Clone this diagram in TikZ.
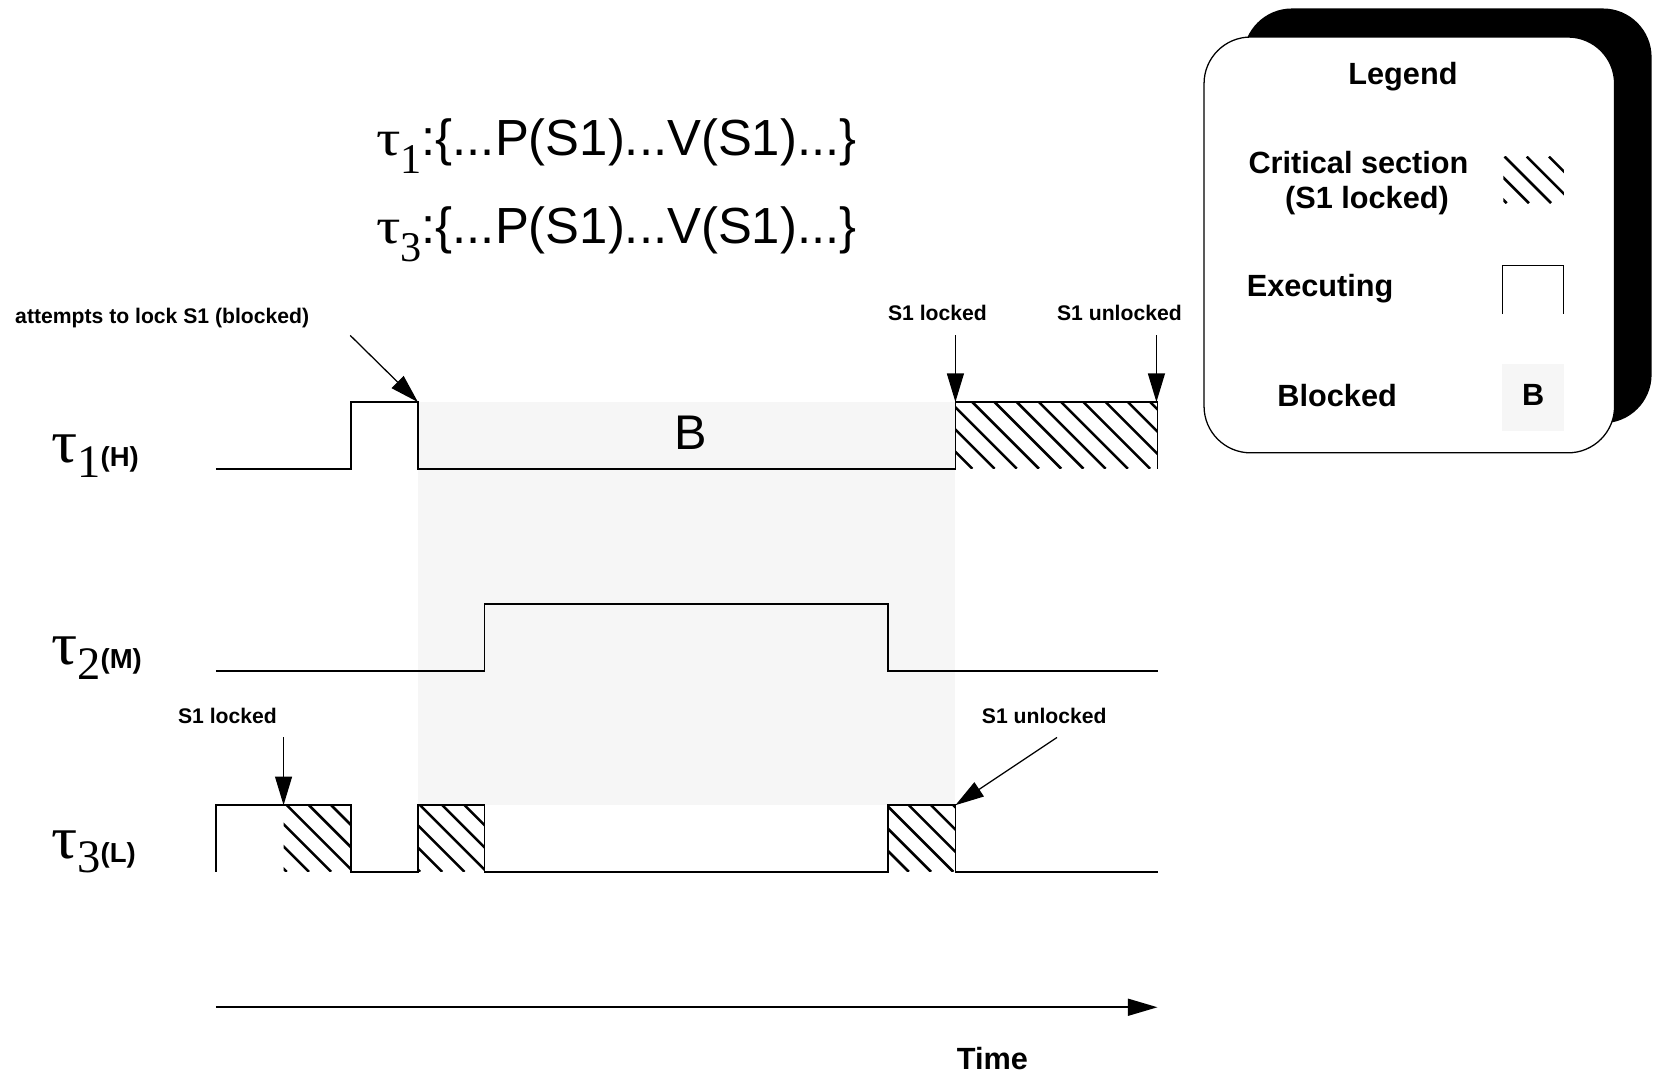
\documentclass[tikz,border=0pt]{standalone}
\usepackage{fontspec}
\setmainfont{Liberation Sans}
\newfontfamily\tmsfont{Liberation Serif}
\usetikzlibrary{arrows.meta}
\definecolor{blockgray}{RGB}{246,246,246}
\tikzset{
  sig/.style={line width=0.8pt, line join=miter},
  hatchline/.style={line width=1.2pt},
  ptr/.style={line width=0.6pt, -{Triangle[length=13.5pt,width=8pt]}},
  smalllab/.style={font=\bfseries\fontsize{10}{12}\selectfont, inner sep=0pt},
  legtext/.style={font=\bfseries\fontsize{14.5}{16.5}\selectfont, inner sep=0pt},
  plain/.style={inner sep=0pt},
}
\newcommand{\hatchrect}[4]{%
  \begin{scope}
    \clip (#1,#2) rectangle (#3,#4);
    \foreach \k in {-35,...,70} {
      \pgfmathsetmacro{\cc}{14+21*\k}
      \draw[hatchline] (\cc+#2,#2) -- (\cc+#4,#4);
    }
  \end{scope}}
\newcommand{\tasklabel}[2]{{\tmsfont\fontsize{28.5}{30}\selectfont \scalebox{1.08}[1]{τ}}\raisebox{-7pt}{\tmsfont\fontsize{22}{24}\selectfont #1}\raisebox{-2pt}{\bfseries\fontsize{13}{15}\selectfont(#2)}}
\newcommand{\formula}[1]{{\tmsfont\fontsize{24}{26}\selectfont \scalebox{1.2}[1]{τ}\raisebox{-8.5pt}{\fontsize{20}{22}\selectfont #1}}{\fontsize{24}{26}\selectfont:\{...P(S1)...V(S1)...\}}}
\begin{document}
\begin{tikzpicture}[x=0.5pt,y=-0.5pt]
\useasboundingbox (0,0) rectangle (1568,1016);

% blocked region
\fill[blockgray] (395,380) rectangle (903,761);

% hatched critical sections
\hatchrect{903}{380}{1094}{443}
\hatchrect{268}{761}{332}{824}
\hatchrect{395}{761}{458}{824}
\hatchrect{839}{761}{903}{824}

% signals
\draw[sig] (204,443) -- (332,443) -- (332,380) -- (395,380) -- (395,443) -- (903,443) -- (903,380) -- (1094,380) -- (1094,443);
\draw[sig] (204,634) -- (458,634) -- (458,571) -- (839,571) -- (839,634) -- (1094,634);
\draw[sig] (204,824) -- (204,761) -- (332,761) -- (332,824) -- (395,824) -- (395,761) -- (458,761) -- (458,824) -- (839,824) -- (839,761) -- (903,761) -- (903,824) -- (1094,824);

\node[plain, font=\fontsize{23}{25}\selectfont, anchor=base] (bl) at (653,425) {B};

% task labels
\node[plain, anchor=base west] (t1) at (48,437) {\tasklabel{1}{H}};
\node[plain, anchor=base west] (t2) at (48,628) {\tasklabel{2}{M}};
\node[plain, anchor=base west] (t3) at (48,811) {\tasklabel{3}{L}};

% formulas
\node[plain, anchor=base west] (f1) at (355,147) {\formula{1}};
\node[plain, anchor=base west] (f3) at (355,230) {\formula{3}};

% annotations
\node[smalllab, anchor=base west] (att) at (14,306) {attempts to lock S1 (blocked)};
\coordinate (attS) at (331,317);
\coordinate (attT) at (395,380);
\draw[ptr] (attS) -- (attT);

\node[smalllab, anchor=base] (lk1) at (886,303) {S1 locked};
\coordinate (lk1S) at (903,317);
\coordinate (lk1T) at (903,380);
\draw[ptr] (lk1S) -- (lk1T);

\node[smalllab, anchor=base] (ul1) at (1058,303) {S1 unlocked};
\coordinate (ul1S) at (1093,317);
\coordinate (ul1T) at (1093,380);
\draw[ptr] (ul1S) -- (ul1T);

\node[smalllab, anchor=base] (lk3) at (215,684) {S1 locked};
\coordinate (lk3S) at (268,697);
\coordinate (lk3T) at (268,761);
\draw[ptr] (lk3S) -- (lk3T);

\node[smalllab, anchor=base] (ul3) at (987,684) {S1 unlocked};
\coordinate (ul3S) at (999,697);
\coordinate (ul3T) at (903,761);
\draw[ptr] (ul3S) -- (ul3T);

% time axis
\coordinate (tA) at (204,952);
\coordinate (tB) at (1094,952);
\draw[line width=0.9pt, -{Triangle[length=14pt,width=8pt]}] (tA) -- (tB);
\node[legtext, anchor=base] (time) at (938,1011) {Time};

% legend
\fill[rounded corners=23pt] (1175,8) rectangle (1561,400);
\draw[fill=white, line width=0.6pt, rounded corners=22pt] (1138,35) rectangle (1526,428);
\node[legtext, anchor=base] (legT) at (1326,80) {Legend};
\node[legtext, anchor=base] (legC1) at (1284,164) {Critical section};
\node[legtext, anchor=base] (legC2) at (1292,197) {(S1 locked)};
\hatchrect{1421}{148}{1478}{192}
\node[legtext, anchor=base west] (legE) at (1178,280) {Executing};
\draw[line width=0.6pt] (1420,297) -- (1420,251) -- (1478,251) -- (1478,297);
\node[legtext, anchor=base west] (legB) at (1207,384) {Blocked};
\fill[blockgray] (1420,344) rectangle (1478,407);
\node[legtext, anchor=base] (legBB) at (1449,383) {B};
\end{tikzpicture}
\end{document}
